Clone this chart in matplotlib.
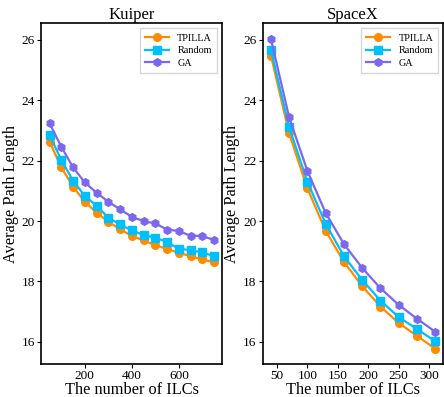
import matplotlib
matplotlib.use('Agg')
import matplotlib.pyplot as plt

plt.rcParams['font.family'] = ['Liberation Serif', 'DejaVu Serif']
plt.rcParams['xtick.labelsize'] = 9.5
plt.rcParams['ytick.labelsize'] = 9.5

# === Data ===
kuiper_x = [50, 100, 150, 200, 250, 300, 350, 400, 450, 500, 550, 600, 650, 700, 750]
kuiper_tpilla = [22.63, 21.78, 21.14, 20.64, 20.28, 19.98, 19.73, 19.51, 19.36, 19.20,
                 19.08, 18.95, 18.84, 18.73, 18.63]
kuiper_random = [22.85, 22.02, 21.34, 20.83, 20.51, 20.11, 19.89, 19.69, 19.54, 19.45,
                 19.31, 19.08, 19.04, 18.96, 18.84]
kuiper_ga = [23.24, 22.46, 21.78, 21.28, 20.94, 20.64, 20.39, 20.14, 20.00, 19.92,
             19.72, 19.67, 19.51, 19.51, 19.37]

spacex_x = [40, 70, 100, 130, 160, 190, 220, 250, 280, 310]
spacex_tpilla = [25.48, 22.90, 21.08, 19.68, 18.65, 17.85, 17.17, 16.63, 16.20, 15.78]
spacex_random = [25.67, 23.10, 21.30, 19.91, 18.84, 18.05, 17.37, 16.82, 16.43, 16.02]
spacex_ga = [26.03, 23.43, 21.66, 20.27, 19.24, 18.45, 17.78, 17.23, 16.77, 16.34]

titles = ['Kuiper', 'SpaceX']
labels = ['TPILLA', 'Random', 'GA']

c_tpilla = '#FF8C00'
c_random = '#00BFFF'
c_ga = '#7B68EE'

fig = plt.figure(figsize=(4.44, 3.97), dpi=100)
ax1 = fig.add_axes([0.093, 0.083, 0.4077, 0.858])
ax2 = fig.add_axes([0.5917, 0.083, 0.4068, 0.858], sharey=ax1)

series = [
    (ax1, kuiper_x, kuiper_tpilla, kuiper_random, kuiper_ga),
    (ax2, spacex_x, spacex_tpilla, spacex_random, spacex_ga),
]

for (ax, x, t, r, g), title in zip(series, titles):
    ax.plot(x, t, color=c_tpilla, marker='o', markersize=5.5, lw=1.6, label=labels[0])
    ax.plot(x, r, color=c_random, marker='s', markersize=5.5, lw=1.6, label=labels[1])
    ax.plot(x, g, color=c_ga, marker='h', markersize=5.5, lw=1.6, label=labels[2])
    ax.set_title(title, fontsize=12, pad=3)
    ax.set_xlabel('The number of ILCs', fontsize=11.8, labelpad=0)
    ax.set_ylabel('Average Path Length', fontsize=11.8, labelpad=2)
    ax.legend(loc='upper right', fontsize=7.3, handlelength=2.4, borderpad=0.5,
              labelspacing=0.35, fancybox=False)
    ax.tick_params(labelleft=True, length=3, pad=1.5)
    for sp in ax.spines.values():
        sp.set_linewidth(1.2)

ax1.set_xticks([200, 400, 600])
ax1.set_yticks([16, 18, 20, 22, 24, 26])
ax2.set_xticks([50, 100, 150, 200, 250, 300])

plt.savefig('out.png', dpi=100)
plt.close()
